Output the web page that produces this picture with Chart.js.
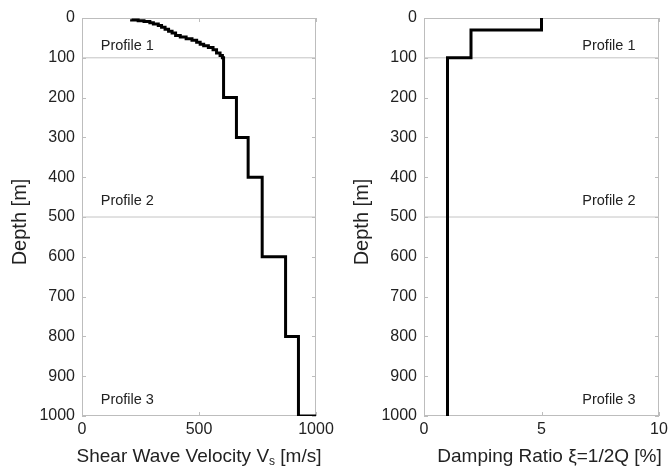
<!DOCTYPE html>
<html lang="en">
  <head>
    <meta charset="UTF-8" />
    <title>Velocity and damping profiles</title>
    <script src="https://cdn.jsdelivr.net/npm/chart.js"></script>
    <style>
      html, body { margin: 0; padding: 0; background: #fff; }
      #wrap { position: relative; width: 669px; height: 471px; overflow: hidden; }
      canvas { position: absolute; top: 0; }
      #vsChart { left: 0; }
      #dampChart { left: 342px; }
    </style>
  </head>
  <body>
    <div id="wrap">
      <canvas id="vsChart" width="334" height="471"></canvas>
      <canvas id="dampChart" width="327" height="471"></canvas>
    </div>
    <script>
      // layer tops (m) and shear wave velocity (m/s) of each layer
      const vsDepthTop = [3, 5, 7, 9, 12, 15, 19, 23, 28, 33, 38, 44, 48, 52, 56, 61, 66, 70, 74, 80, 88, 94, 100, 200, 300, 400, 600, 800, 1000];
      const vsValues = [212, 240, 265, 290, 305, 326, 340, 355, 370, 385, 400, 420, 445, 470, 490, 505, 520, 540, 560, 575, 590, 600, 605, 660, 710, 770, 870, 925, 1000];

      // layer tops (m) and damping ratio (%)
      const dampDepthTop = [0, 30, 100, 1000];
      const dampValues = [5, 2, 1, 1];

      // profile boundaries and names
      const profileBounds = [100, 500];
      const profileNames = ["Profile 1", "Profile 2", "Profile 3"];

      const depthTicks = [0, 100, 200, 300, 400, 500, 600, 700, 800, 900, 1000];
      const vsTicks = [0, 500, 1000];
      const dampTicks = [0, 5, 10];

      const FONT = "'Liberation Sans', Arial, sans-serif";

      function layers(tops, vals) {
        return tops.map((d, i) => ({ x: vals[i], y: d }));
      }

      function boundaryLines(xmax) {
        return profileBounds.map((d) => ({
          data: [{ x: 0, y: d }, { x: xmax, y: d }],
          borderColor: "#c4c4c4",
          borderWidth: 1,
          pointRadius: 0,
          order: 2,
        }));
      }

      const frame = {
        id: "frame",
        beforeDatasetsDraw(chart) {
          const { ctx, chartArea: a, scales } = chart;
          ctx.save();
          ctx.strokeStyle = "#bdbdbd";
          ctx.lineWidth = 1;
          ctx.strokeRect(a.left + 0.5, a.top + 0.5, a.width - 1, a.height - 1);
          ctx.beginPath();
          scales.x.ticks.forEach((t) => {
            const px = Math.round(scales.x.getPixelForValue(t.value)) + 0.5;
            ctx.moveTo(px, a.top); ctx.lineTo(px, a.top + 4);
            ctx.moveTo(px, a.bottom); ctx.lineTo(px, a.bottom - 4);
          });
          scales.y.ticks.forEach((t) => {
            const py = Math.round(scales.y.getPixelForValue(t.value)) + 0.5;
            ctx.moveTo(a.left, py); ctx.lineTo(a.left + 4, py);
            ctx.moveTo(a.right, py); ctx.lineTo(a.right - 4, py);
          });
          ctx.stroke();
          ctx.restore();
        },
        afterDraw(chart, args, opts) {
          const { ctx, chartArea: a, scales } = chart;
          ctx.save();
          ctx.fillStyle = "#222";
          // profile names
          ctx.font = "14.5px " + FONT;
          ctx.textBaseline = "middle";
          ctx.textAlign = opts.labelAlign;
          profileNames.forEach((name, i) => {
            ctx.fillText(name, scales.x.getPixelForValue(opts.labelX), scales.y.getPixelForValue(opts.labelDepths[i]));
          });
          // x title with subscript parts
          const big = "19px " + FONT, small = "12px " + FONT;
          let w = 0;
          opts.xTitle.forEach((p) => { ctx.font = p.sub ? small : big; w += ctx.measureText(p.t).width; });
          let x = (a.left + a.right) / 2 + opts.titleShift - w / 2;
          ctx.textAlign = "left";
          ctx.textBaseline = "alphabetic";
          opts.xTitle.forEach((p) => {
            ctx.font = p.sub ? small : big;
            ctx.fillText(p.t, x, p.sub ? 465 : 462);
            x += ctx.measureText(p.t).width;
          });
          // y title
          ctx.font = "20px " + FONT;
          ctx.textAlign = "center";
          ctx.textBaseline = "middle";
          ctx.translate(20, 222);
          ctx.rotate(-Math.PI / 2);
          ctx.fillText("Depth [m]", 0, 0);
          ctx.restore();
        },
      };

      function makeChart(id, points, xmax, xTicks, padRight, plug) {
        return new Chart(document.getElementById(id), {
          type: "line",
          data: {
            datasets: [
              {
                data: points,
                borderColor: "#000",
                borderWidth: 3,
                pointRadius: 0,
                stepped: "after",
                order: 1,
              },
              ...boundaryLines(xmax),
            ],
          },
          options: {
            responsive: false,
            animation: false,
            layout: { padding: { top: 18, right: padRight, left: 0, bottom: 0 } },
            plugins: { legend: { display: false }, tooltip: { enabled: false }, frame: plug },
            scales: {
              x: {
                type: "linear",
                min: 0,
                max: xmax,
                afterBuildTicks: (s) => { s.ticks = xTicks.map((v) => ({ value: v })); },
                afterFit: (s) => { s.height = 55; s.paddingLeft = 0; s.paddingRight = 0; },
                grid: { display: false, drawTicks: false },
                border: { display: false },
                ticks: { font: { size: 16, family: FONT }, color: "#222", padding: 4, maxRotation: 0, callback: (v) => String(v) },
              },
              y: {
                type: "linear",
                reverse: true,
                min: 0,
                max: 1000,
                afterBuildTicks: (s) => { s.ticks = depthTicks.map((v) => ({ value: v })); },
                afterFit: (s) => { s.width = 82; s.paddingTop = 0; s.paddingBottom = 0; },
                grid: { display: false, drawTicks: false },
                border: { display: false },
                ticks: { font: { size: 16, family: FONT }, color: "#222", padding: 7, callback: (v) => String(v) },
              },
            },
          },
          plugins: [frame],
        });
      }

      makeChart("vsChart", layers(vsDepthTop, vsValues), 1000, vsTicks, 18, {
        labelX: 80,
        labelAlign: "left",
        labelDepths: [70, 460, 960],
        titleShift: 0,
        xTitle: [{ t: "Shear Wave Velocity V" }, { t: "s", sub: true }, { t: " [m/s]" }],
      });

      makeChart("dampChart", layers(dampDepthTop, dampValues), 10, dampTicks, 10, {
        labelX: 9,
        labelAlign: "right",
        labelDepths: [70, 460, 960],
        titleShift: 8,
        xTitle: [{ t: "Damping Ratio ξ=1/2Q [%]" }],
      });
    </script>
  </body>
</html>
